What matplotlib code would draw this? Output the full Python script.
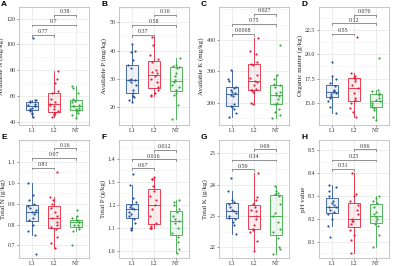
import matplotlib

matplotlib.use("Agg")
import matplotlib.pyplot as plt
import numpy as np
from matplotlib.ticker import AutoMinorLocator

groups = ["L1", "L2", "NT"]
colors = ["#2b5597", "#e4213b", "#3aaa45"]

# soil properties, one list per group (L1, L2, NT)
avail_n = [
    [105, 57, 57, 56, 55.5, 54, 53, 52, 52, 51, 50, 49, 48.5, 47, 46, 44],
    [79, 73, 70, 64, 62, 58, 55, 54, 53, 52, 50, 48, 47, 46, 45, 44],
    [68, 66, 62, 58, 56, 55, 53, 52, 52, 51, 50, 49, 48, 47, 45, 43],
]
avail_p = [
    [42.2, 40, 39.5, 36.5, 35, 34, 30, 29.8, 29.5, 29, 28, 26, 25, 24, 23.5, 22.5, 21.8],
    [44.7, 42, 38.5, 37, 36, 33, 32.5, 32, 31, 30, 29, 27, 26, 25, 24.5, 24],
    [37.5, 35, 34.5, 34.2, 34, 32, 31, 29.5, 29, 28, 27, 26, 25, 24.5, 21, 16],
]
avail_k = [
    [304, 275, 270, 250, 248, 240, 235, 232, 225, 220, 195, 190, 185, 180, 165, 155],
    [408, 365, 355, 330, 325, 320, 290, 280, 270, 265, 255, 245, 242, 240, 235, 200, 195],
    [385, 290, 275, 260, 255, 250, 235, 230, 225, 220, 210, 200, 195, 180, 170, 160, 150],
]
organic = [
    [19.2, 17.8, 17.5, 17.0, 16.7, 16.3, 16.2, 16.1, 16.0, 15.9, 15.7, 15.5, 15.2, 14.6, 13.9],
    [21.8, 18.1, 17.8, 17.7, 17.5, 17.2, 16.8, 16.5, 16.0, 15.5, 15.3, 15.0, 14.5, 14.0, 13.5],
    [19.6, 16.3, 16.2, 16.0, 15.8, 15.5, 15.3, 15.2, 15.0, 14.8, 14.6, 14.5, 14.2, 13.5, 13.2],
]
total_n = [
    [1.0, 0.94, 0.92, 0.90, 0.89, 0.88, 0.87, 0.86, 0.86, 0.85, 0.83, 0.82, 0.80, 0.77, 0.75, 0.66],
    [1.05, 0.93, 0.92, 0.90, 0.88, 0.86, 0.84, 0.83, 0.81, 0.80, 0.79, 0.78, 0.74, 0.71, 0.69],
    [0.87, 0.84, 0.83, 0.82, 0.82, 0.81, 0.81, 0.80, 0.80, 0.79, 0.78, 0.77, 0.70],
]
total_p = [
    [1.335, 1.285, 1.23, 1.21, 1.20, 1.19, 1.185, 1.18, 1.17, 1.16, 1.15, 1.14, 1.12, 1.10, 1.09],
    [1.32, 1.31, 1.31, 1.28, 1.26, 1.24, 1.22, 1.20, 1.18, 1.15, 1.12, 1.11, 1.10, 1.10, 1.10],
    [1.22, 1.21, 1.20, 1.18, 1.17, 1.15, 1.14, 1.13, 1.12, 1.10, 1.08, 1.06, 1.04, 1.01, 0.99],
]
total_k = [
    [24.2, 23.8, 23.5, 23.45, 23.4, 23.3, 23.2, 23.15, 23.1, 23.0, 22.95, 22.9, 22.8, 22.7, 22.43],
    [24.38, 23.6, 23.5, 23.4, 23.3, 23.2, 23.15, 23.0, 22.9, 22.7, 22.6, 22.55, 22.5, 22.2, 21.87],
    [23.97, 23.8, 23.75, 23.7, 23.65, 23.4, 23.1, 23.0, 22.8, 22.6, 22.5, 22.3, 22.0, 21.95, 21.8],
]
ph = [
    [8.35, 8.34, 8.32, 8.30, 8.28, 8.27, 8.26, 8.25, 8.25, 8.24, 8.23, 8.22, 8.20, 8.17, 8.12],
    [8.40, 8.31, 8.30, 8.28, 8.26, 8.24, 8.22, 8.20, 8.19, 8.19, 8.18, 8.15, 8.13, 8.11, 8.05],
    [8.30, 8.29, 8.28, 8.27, 8.25, 8.23, 8.22, 8.21, 8.20, 8.19, 8.18, 8.17, 8.13, 8.08],
]

# p-values for the pairwise comparisons: (L1-L2, L1-NT, L2-NT)
pvals = {
    "A": ["0.77", "0.7", "0.38"],
    "B": ["0.37", "0.58", "0.16"],
    "C": ["0.0068", "0.75", "0.027"],
    "D": ["0.55", "0.12", "0.076"],
    "E": ["0.81", "0.07", "0.16"],
    "F": ["0.67", "0.016", "0.012"],
    "G": ["0.59", "0.34", "0.69"],
    "H": ["0.31", "0.25", "0.96"],
}

panels = [
    ("A", "Available N (mg/kg)", avail_n, [40, 60, 80, 100, 120], "%d", (37.5, 129), [107.4, 115.4, 122.8]),
    ("B", "Available P (mg/kg)", avail_p, [20, 30, 40, 50], "%d", (13.8, 55.3), [45.5, 49.0, 52.6]),
    ("C", "Available K (mg/kg)", avail_k, [200, 300, 400], "%d", (128, 507), [420, 452, 484]),
    ("D", "Organic matter (g/kg)", organic, [15.0, 17.5, 20.0, 22.5], "%.1f", (12.7, 24.9), [22.15, 23.2, 24.1]),
    ("E", "Total N (g/kg)", total_n, [0.7, 0.8, 0.9, 1.0, 1.1], "%.1f", (0.64, 1.205), [1.073, 1.12, 1.165]),
    ("F", "Total P (g/kg)", total_p, [1.0, 1.1, 1.2, 1.3, 1.4], "%.1f", (0.97, 1.48), [1.358, 1.396, 1.436]),
    ("G", "Total K (g/kg)", total_k, [22, 23, 24, 25], "%d", (21.66, 25.43), [24.49, 24.8, 25.13]),
    ("H", "pH value", ph, [8.1, 8.2, 8.3, 8.4, 8.5], "%.1f", (8.03, 8.544), [8.418, 8.459, 8.503]),
]

plt.rcParams["font.family"] = ["Liberation Serif", "DejaVu Serif"]

W, H = 400, 266
fig = plt.figure(figsize=(4, 2.66), dpi=100)
rng = np.random.default_rng(7)
pairs = [(1, 2), (1, 3), (2, 3)]

for i, (letter, ylabel, data, ticks, fmt, ylim, bracket_y) in enumerate(panels):
    col, row = i % 4, i // 4
    left = col * 100 + 19
    top = 7 + row * 133
    ax = fig.add_axes([left / W, 1 - (top + 118) / H, 70 / W, 118 / H])

    for g, (vals, c) in enumerate(zip(data, colors)):
        bp = ax.boxplot([vals], positions=[g + 1], widths=0.55, showfliers=False,
                        patch_artist=True, whis=1.5, manage_ticks=False)
        bp["boxes"][0].set(facecolor=matplotlib.colors.to_rgba(c, 0.08), edgecolor=c, linewidth=0.6)
        bp["medians"][0].set(color=c, linewidth=0.6)
        for w in bp["whiskers"]:
            w.set(color=c, linewidth=0.6)
        for cap in bp["caps"]:
            cap.set_visible(False)
        jitter = rng.uniform(-0.2, 0.2, len(vals))
        ax.scatter(g + 1 + jitter, vals, s=2.5, color=c, linewidths=0, zorder=3)

    ax.set_xlim(0.4, 3.6)
    ax.set_ylim(*ylim)
    ax.set_yticks(ticks)
    ax.set_yticklabels([fmt % t for t in ticks])
    ax.yaxis.set_minor_locator(AutoMinorLocator(2))
    ax.set_xticks([1, 2, 3])
    ax.set_xticklabels(groups)
    ax.grid(True, which="major", color="#e6e6e6", lw=0.5)
    ax.grid(True, which="minor", axis="y", color="#f2f2f2", lw=0.4)
    ax.set_axisbelow(True)
    for s in ax.spines.values():
        s.set_color("#b0b0b0")
        s.set_linewidth(0.5)
    ax.tick_params(axis="both", which="major", labelsize=4.3, length=1.5, width=0.4,
                   pad=1, color="#444444", labelcolor="#333333")
    ax.tick_params(axis="y", which="minor", length=0)
    ax.set_ylabel(ylabel, fontsize=5, labelpad=1.5, color="#222222")

    span = ylim[1] - ylim[0]
    for (a, b), y, p in zip(pairs, bracket_y, pvals[letter]):
        d = span * 0.015
        ax.plot([a, a, b, b], [y - d, y, y, y - d], color="#555555", lw=0.45)
        ax.text((a + b) / 2, y + span * 0.006, p, ha="center", va="bottom",
                fontsize=4.3, color="#333333")

    fig.text((col * 100 + 1) / W, 1 - (row * 133 + 1) / H, letter, fontsize=6,
             fontweight="bold", family="Liberation Sans", ha="left", va="top")

fig.savefig("out.png", dpi=100)
